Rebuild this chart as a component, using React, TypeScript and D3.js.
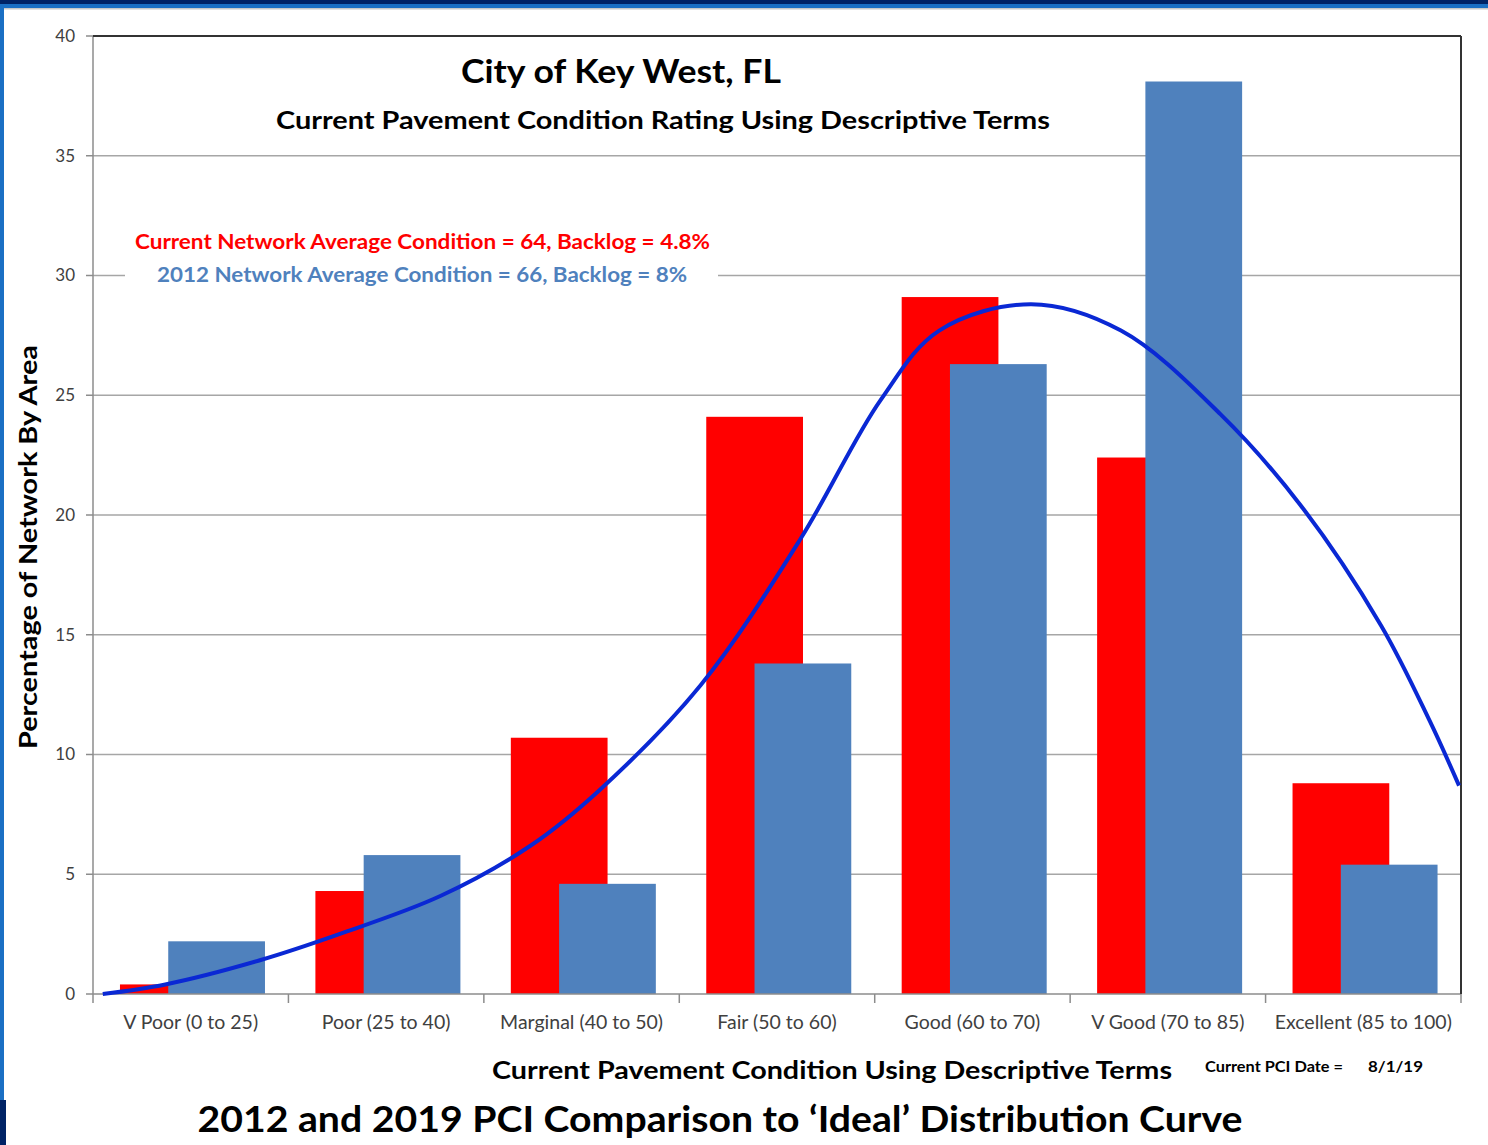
import React, { useEffect, useRef } from "react";
import * as d3 from "d3";

const categories = [
  "V Poor (0 to 25)",
  "Poor (25 to 40)",
  "Marginal (40 to 50)",
  "Fair (50 to 60)",
  "Good (60 to 70)",
  "V Good (70 to 85)",
  "Excellent (85 to 100)",
];
const current2019 = [0.4, 4.3, 10.7, 24.1, 29.1, 22.4, 8.8];
const network2012 = [2.2, 5.8, 4.6, 13.8, 26.3, 38.1, 5.4];
// ideal curve: [position in category units, percent]
const idealCurve: [number, number][] = [
  [0.05, 0], [0.37, 0.4], [0.85, 1.4], [1.26, 2.5], [1.78, 4.1], [2.24, 6.2],
  [2.59, 8.5], [3.11, 12.9], [3.62, 19.0], [4.03, 24.8], [4.33, 27.7],
  [4.8, 28.8], [5.26, 27.7], [5.77, 24.2], [6.18, 20.4], [6.59, 15.4],
  [6.84, 11.4], [6.99, 8.7],
];
const yTicks = [0, 5, 10, 15, 20, 25, 30, 35, 40];

const W = 1488, H = 1145;
const L = 93, R = 1461, T = 36, B = 994;
const FONT = "Lato, 'Open Sans', sans-serif";

export default function App() {
  const ref = useRef<SVGSVGElement>(null);
  useEffect(() => {
    const svg = d3.select(ref.current);
    svg.selectAll("*").remove();

    // frame
    svg.append("rect").attr("x", 0).attr("y", 0).attr("width", W).attr("height", H).attr("fill", "#fff");
    svg.append("rect").attr("x", 0).attr("y", 0).attr("width", W).attr("height", 4).attr("fill", "#002366");
    svg.append("rect").attr("x", 0).attr("y", 4).attr("width", W).attr("height", 4).attr("fill", "#1a6fc4");
    svg.append("rect").attr("x", 0).attr("y", 8).attr("width", W).attr("height", 1.5).attr("fill", "#c8c8c8");
    svg.append("rect").attr("x", 0).attr("y", 8).attr("width", 4).attr("height", 1092).attr("fill", "#1a6fc4");
    svg.append("rect").attr("x", 0).attr("y", 1100).attr("width", 6).attr("height", 45).attr("fill", "#002366");

    const x = d3.scaleBand<string>().domain(categories).range([L, R]).paddingInner(0).paddingOuter(0);
    const xc = d3.scaleLinear().domain([0, categories.length]).range([L, R]);
    const y = d3.scaleLinear().domain([0, 40]).range([B, T]);

    const g = svg.append("g");

    // gridlines
    g.selectAll("line.grid").data(yTicks.filter((t) => t > 0 && t < 40)).join("line")
      .attr("x1", L).attr("x2", R).attr("y1", (d) => y(d)).attr("y2", (d) => y(d))
      .attr("stroke", "#a6a6a6").attr("stroke-width", 1.5);

    // bars
    const bw = x.bandwidth();
    const off = bw * 0.138;
    const barW = bw * 0.495;
    const shift = bw * 0.247;
    g.selectAll("rect.red").data(current2019).join("rect")
      .attr("x", (_, i) => x(categories[i])! + off)
      .attr("y", (d) => y(d)).attr("width", barW).attr("height", (d) => B - y(d))
      .attr("fill", "#ff0000");
    g.selectAll("rect.blue").data(network2012).join("rect")
      .attr("x", (_, i) => x(categories[i])! + off + shift)
      .attr("y", (d) => y(d)).attr("width", barW).attr("height", (d) => B - y(d))
      .attr("fill", "#4f81bd");

    // axes lines
    g.append("line").attr("x1", L).attr("x2", L).attr("y1", T).attr("y2", B).attr("stroke", "#8c8c8c").attr("stroke-width", 1.5);
    g.append("line").attr("x1", L).attr("x2", R).attr("y1", B).attr("y2", B).attr("stroke", "#8c8c8c").attr("stroke-width", 1.5);
    g.append("line").attr("x1", L).attr("x2", R).attr("y1", T).attr("y2", T).attr("stroke", "#333").attr("stroke-width", 2);
    g.append("line").attr("x1", R).attr("x2", R).attr("y1", T).attr("y2", B).attr("stroke", "#333").attr("stroke-width", 2);

    // y ticks
    g.selectAll("line.yt").data(yTicks).join("line")
      .attr("x1", L - 7).attr("x2", L).attr("y1", (d) => y(d)).attr("y2", (d) => y(d))
      .attr("stroke", "#8c8c8c").attr("stroke-width", 1.5);
    g.selectAll("text.yl").data(yTicks).join("text")
      .attr("x", 75).attr("y", (d) => y(d)).attr("dy", "0.35em")
      .attr("text-anchor", "end").attr("font-family", FONT).attr("font-size", 17)
      .attr("fill", "#404040").text((d) => String(d));

    // x ticks
    const bounds = d3.range(categories.length + 1);
    g.selectAll("line.xt").data(bounds).join("line")
      .attr("x1", (d) => xc(d)).attr("x2", (d) => xc(d)).attr("y1", B).attr("y2", B + 9)
      .attr("stroke", "#8c8c8c").attr("stroke-width", 1.5);
    g.selectAll("text.xl").data(categories).join("text")
      .attr("x", (d) => x(d)! + bw / 2).attr("y", 1029)
      .attr("text-anchor", "middle").attr("font-family", FONT).attr("font-size", 19.5)
      .attr("fill", "#404040").text((d) => d);

    // ideal curve
    const line = d3.line<[number, number]>().x((d) => xc(d[0])).y((d) => y(d[1])).curve(d3.curveCatmullRom.alpha(0.5));
    g.append("path").datum(idealCurve).attr("d", line).attr("fill", "none")
      .attr("stroke", "#0a28d4").attr("stroke-width", 4);

    // annotation box over 30 gridline
    g.append("rect").attr("x", 125).attr("y", 262).attr("width", 593).attr("height", 26).attr("fill", "#fff");
    g.append("text").attr("x", 135).attr("y", 249).attr("font-family", FONT).attr("font-size", 21)
      .attr("font-weight", 700).attr("fill", "#ff0000")
      .attr("textLength", 575).attr("lengthAdjust", "spacingAndGlyphs")
      .text("Current Network Average Condition  = 64,  Backlog = 4.8%");
    g.append("text").attr("x", 157).attr("y", 282).attr("font-family", FONT).attr("font-size", 21)
      .attr("font-weight", 700).attr("fill", "#4f81bd")
      .attr("textLength", 530).attr("lengthAdjust", "spacingAndGlyphs")
      .text("2012  Network Average Condition  = 66,  Backlog = 8%");

    // titles
    svg.append("text").attr("x", 621).attr("y", 83).attr("text-anchor", "middle").attr("font-family", FONT)
      .attr("font-size", 32).attr("font-weight", 700).attr("fill", "#000")
      .attr("textLength", 320).attr("lengthAdjust", "spacingAndGlyphs").text("City of Key West, FL");
    svg.append("text").attr("x", 663).attr("y", 129).attr("text-anchor", "middle").attr("font-family", FONT)
      .attr("font-size", 25).attr("font-weight", 700).attr("fill", "#000")
      .attr("textLength", 774).attr("lengthAdjust", "spacingAndGlyphs").text("Current Pavement Condition Rating Using Descriptive Terms");

    // y label
    svg.append("text").attr("transform", "translate(37,547) rotate(-90)").attr("text-anchor", "middle")
      .attr("font-family", FONT).attr("font-size", 24).attr("font-weight", 700).attr("fill", "#000")
      .attr("textLength", 404).attr("lengthAdjust", "spacingAndGlyphs").text("Percentage of Network By Area");

    // x label
    svg.append("text").attr("x", 832).attr("y", 1079).attr("text-anchor", "middle").attr("font-family", FONT)
      .attr("font-size", 25).attr("font-weight", 700).attr("fill", "#000")
      .attr("textLength", 680).attr("lengthAdjust", "spacingAndGlyphs").text("Current Pavement Condition Using Descriptive Terms");
    svg.append("text").attr("x", 1205).attr("y", 1072).attr("font-family", FONT)
      .attr("font-size", 15).attr("font-weight", 700).attr("fill", "#000")
      .attr("textLength", 138).attr("lengthAdjust", "spacingAndGlyphs").text("Current PCI Date =");
    svg.append("text").attr("x", 1368).attr("y", 1072).attr("font-family", FONT)
      .attr("font-size", 16).attr("font-weight", 700).attr("fill", "#000")
      .attr("textLength", 55).attr("lengthAdjust", "spacingAndGlyphs").text("8/1/19");

    // caption
    svg.append("text").attr("x", 720).attr("y", 1132).attr("text-anchor", "middle").attr("font-family", FONT)
      .attr("font-size", 36).attr("font-weight", 700).attr("fill", "#000")
      .attr("textLength", 1045).attr("lengthAdjust", "spacingAndGlyphs")
      .text("2012 and 2019 PCI Comparison to \u2018Ideal\u2019 Distribution Curve");
  }, []);
  return (
    <svg ref={ref} width={W} height={H} style={{ position: "absolute", left: 0, top: 0, display: "block" }} />
  );
}
